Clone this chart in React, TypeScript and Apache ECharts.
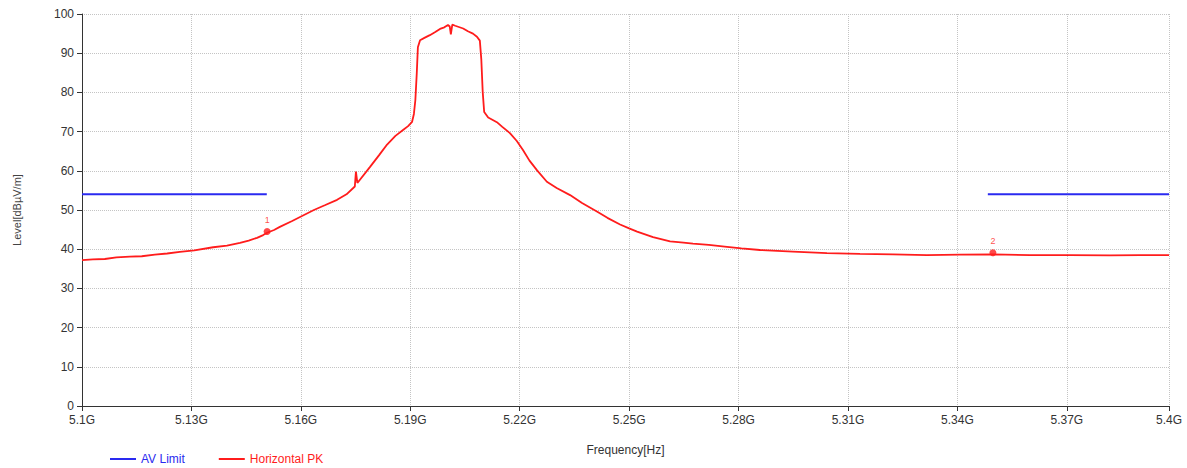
import React, { useEffect, useRef } from "react";
import * as echarts from "echarts";

// Frequency in GHz, level in dBµV/m
const pkFreq = [
  5.1, 5.103, 5.1063, 5.1095, 5.1132, 5.1165, 5.1201, 5.1235, 5.127, 5.131,
  5.1362, 5.14, 5.1436, 5.146, 5.1483, 5.15, 5.1511, 5.153, 5.1546, 5.158,
  5.161, 5.164, 5.167, 5.1704, 5.173, 5.1753, 5.1756, 5.176, 5.1795, 5.182,
  5.1842, 5.1865, 5.1886, 5.19, 5.1911, 5.1916, 5.192, 5.1924, 5.1927, 5.1933,
  5.1945, 5.196, 5.1975, 5.1988, 5.2, 5.201, 5.2015, 5.2018, 5.2022, 5.203,
  5.2052, 5.2065, 5.2079, 5.209, 5.2098, 5.2102, 5.2106, 5.211, 5.2121, 5.2135,
  5.2145, 5.216, 5.2181, 5.22, 5.2217, 5.2235, 5.2256, 5.2283, 5.231, 5.2347,
  5.238, 5.2421, 5.245, 5.2485, 5.251, 5.2532, 5.2576, 5.2623, 5.266, 5.2686,
  5.273, 5.278, 5.282, 5.2871, 5.2962, 5.3056, 5.3147, 5.3238, 5.3332, 5.3423,
  5.3514, 5.3616, 5.3727, 5.3837, 5.392, 5.4,
];
const pkLevel = [
  37.2, 37.4, 37.5, 37.9, 38.1, 38.2, 38.6, 38.9, 39.3, 39.7,
  40.5, 40.9, 41.6, 42.2, 42.9, 43.6, 44.2, 44.9, 45.7, 47.2,
  48.6, 50.0, 51.2, 52.6, 54.0, 56.0, 59.8, 56.9, 61.0, 64.0,
  66.7, 68.9, 70.4, 71.4, 72.5, 74.5, 78.0, 85.0, 91.5, 93.3,
  93.9, 94.6, 95.4, 96.2, 96.6, 97.2, 96.8, 94.8, 97.3, 97.0,
  96.3, 95.6, 95.0, 94.2, 93.2, 88.5, 80.0, 75.0, 73.6, 72.9,
  72.4, 71.2, 69.6, 67.6, 65.3, 62.6, 60.1, 57.2, 55.6, 53.8,
  51.8, 49.6, 48.0, 46.3, 45.3, 44.5, 43.1, 42.0, 41.7, 41.4,
  41.1, 40.6, 40.2, 39.8, 39.4, 39.0, 38.8, 38.7, 38.5, 38.6,
  38.7, 38.5, 38.5, 38.4, 38.5, 38.5,
];

const limitLeftFreq = [5.1, 5.151];
const limitRightFreq = [5.35, 5.4];
const limitLevel = 54;

const markerFreq = [5.1511, 5.3514];
const markerLevel = [44.5, 39.1];
const markerLabels = ["1", "2"];

const yTicks = { min: 0, max: 100, step: 10 };
const startGHz = 5.1;
const spanMHz = 300;
const xStepMHz = 30.2;

const toX = (f: number) => (f - startGHz) * 1000;

export default function App() {
  const ref = useRef<HTMLDivElement>(null);
  useEffect(() => {
    if (!ref.current) return;
    const chart = echarts.init(ref.current, null, { renderer: "svg" });
    const font = "Liberation Sans, Arial, sans-serif";
    const red = "#ff1c1c";
    const blue = "#2a2af0";
    chart.setOption({
      animation: false,
      backgroundColor: "#ffffff",
      textStyle: { fontFamily: font },
      grid: { left: 82, right: 18, top: 14, bottom: 62 },
      legend: {
        left: 108,
        top: 450,
        icon: "rect",
        itemWidth: 26,
        itemHeight: 2,
        itemGap: 34,
        padding: 2,
        textStyle: { fontSize: 12, fontFamily: font, lineHeight: 14 },
        data: [
          { name: "AV Limit", textStyle: { color: blue } },
          { name: "Horizontal PK", textStyle: { color: red } },
        ],
      },
      xAxis: {
        type: "value",
        min: 0,
        max: spanMHz,
        interval: xStepMHz,
        name: "Frequency[Hz]",
        nameLocation: "middle",
        nameGap: 38,
        nameTextStyle: { fontSize: 12, color: "#333", fontFamily: font },
        axisLine: { lineStyle: { color: "#333", width: 1 } },
        axisTick: { show: true, length: 5, lineStyle: { color: "#333" } },
        axisLabel: {
          fontSize: 12,
          color: "#333",
          margin: 8,
          formatter: (v: number) => Math.round((startGHz + v / 1000) * 100) / 100 + "G",
        },
        splitLine: { show: true, lineStyle: { color: "#c4c4c4", type: "dotted" } },
      },
      yAxis: {
        type: "value",
        min: yTicks.min,
        max: yTicks.max,
        interval: yTicks.step,
        name: "Level[dBµV/m]",
        nameLocation: "middle",
        nameGap: 60,
        nameTextStyle: { fontSize: 11, color: "#444", fontFamily: font },
        axisLine: { show: true, lineStyle: { color: "#333", width: 1 } },
        axisTick: { show: true, length: 5, lineStyle: { color: "#333" } },
        axisLabel: { fontSize: 12, color: "#333", margin: 8 },
        splitLine: { show: true, lineStyle: { color: "#c4c4c4", type: "dotted" } },
      },
      series: [
        {
          name: "AV Limit",
          type: "line",
          showSymbol: false,
          color: blue,
          lineStyle: { color: blue, width: 2 },
          data: limitLeftFreq.map((f) => [toX(f), limitLevel]),
        },
        {
          name: "AV Limit",
          type: "line",
          showSymbol: false,
          color: blue,
          lineStyle: { color: blue, width: 2 },
          data: limitRightFreq.map((f) => [toX(f), limitLevel]),
        },
        {
          name: "Horizontal PK",
          type: "line",
          showSymbol: false,
          color: red,
          lineStyle: { color: red, width: 1.8 },
          data: pkFreq.map((f, i) => [toX(f), pkLevel[i]]),
        },
        {
          name: "Markers",
          type: "scatter",
          symbol: "circle",
          symbolSize: 7,
          itemStyle: { color: red },
          label: {
            show: true,
            position: "top",
            distance: 4,
            fontSize: 9,
            color: red,
            formatter: (p: any) => markerLabels[p.dataIndex],
          },
          data: markerFreq.map((f, i) => [toX(f), markerLevel[i]]),
        },
      ],
    });
    return () => chart.dispose();
  }, []);
  return (
    <div
      ref={ref}
      style={{ position: "fixed", left: 0, top: 0, width: 1187, height: 468 }}
    />
  );
}
